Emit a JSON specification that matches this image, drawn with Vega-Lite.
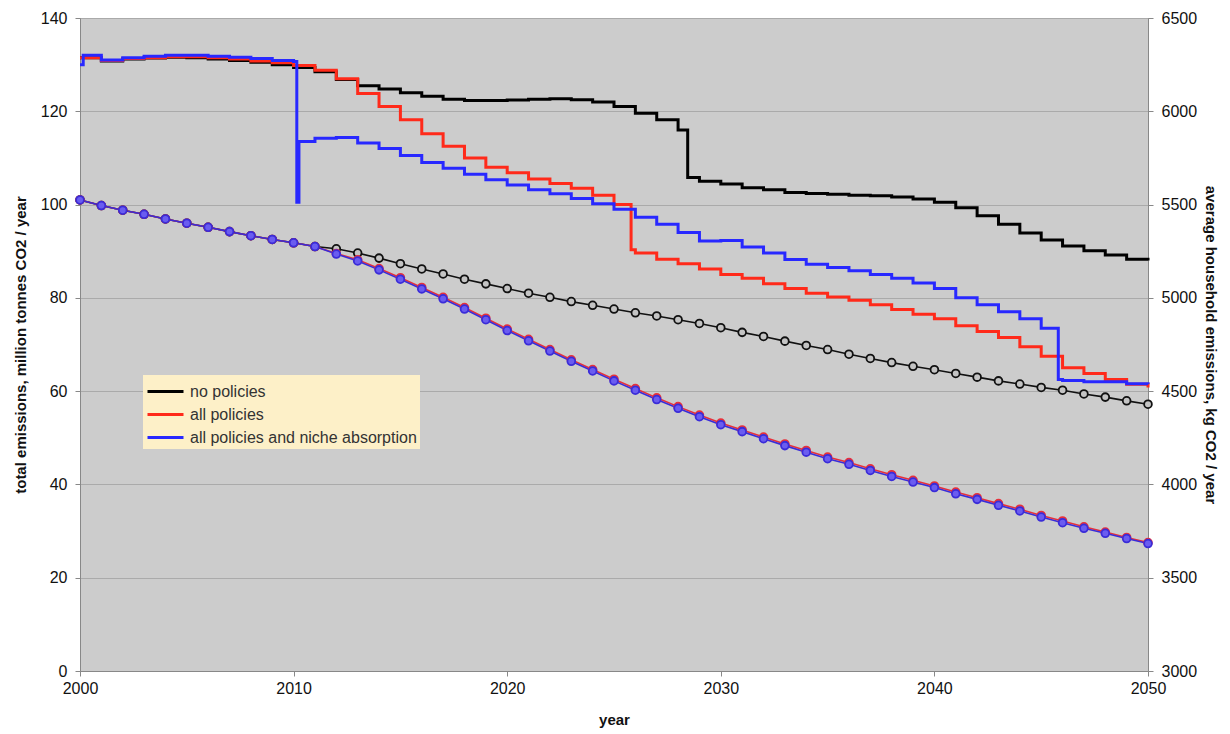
{
  "$schema": "https://vega.github.io/schema/vega-lite/v6.json",
  "width": 1068,
  "height": 653,
  "autosize": {"type": "none"},
  "padding": {"left": 80, "top": 18, "right": 82, "bottom": 63},
  "background": "white",
  "config": {
    "font": "Liberation Sans",
    "view": {"fill": "#cccccc", "stroke": "#999999", "strokeWidth": 1},
    "axis": {
      "labelFont": "Liberation Sans",
      "labelFontSize": 16,
      "labelColor": "#111111",
      "titleFont": "Liberation Sans",
      "titleFontSize": 15,
      "titleFontWeight": "bold",
      "titleColor": "#111111",
      "domainColor": "#888888",
      "tickColor": "#888888",
      "tickSize": 5,
      "gridColor": "#aaaaaa",
      "gridWidth": 1.2
    },
    "legend": {
      "labelFont": "Liberation Sans",
      "labelFontSize": 16,
      "labelColor": "#333333",
      "labelLimit": 400
    }
  },
  "datasets": {
    "steps": [
      {"series": "no policies", "year": 2000, "v": 131.5},
      {"series": "no policies", "year": 2001, "v": 130.8},
      {"series": "no policies", "year": 2002, "v": 131.2},
      {"series": "no policies", "year": 2003, "v": 131.4},
      {"series": "no policies", "year": 2004, "v": 131.6},
      {"series": "no policies", "year": 2005, "v": 131.5},
      {"series": "no policies", "year": 2006, "v": 131.2},
      {"series": "no policies", "year": 2007, "v": 130.9},
      {"series": "no policies", "year": 2008, "v": 130.5},
      {"series": "no policies", "year": 2009, "v": 130.0},
      {"series": "no policies", "year": 2010, "v": 129.4},
      {"series": "no policies", "year": 2011, "v": 128.5},
      {"series": "no policies", "year": 2012, "v": 126.8},
      {"series": "no policies", "year": 2013, "v": 125.5},
      {"series": "no policies", "year": 2014, "v": 124.8},
      {"series": "no policies", "year": 2015, "v": 124.0},
      {"series": "no policies", "year": 2016, "v": 123.2},
      {"series": "no policies", "year": 2017, "v": 122.6},
      {"series": "no policies", "year": 2018, "v": 122.3},
      {"series": "no policies", "year": 2019, "v": 122.3},
      {"series": "no policies", "year": 2020, "v": 122.4},
      {"series": "no policies", "year": 2021, "v": 122.6},
      {"series": "no policies", "year": 2022, "v": 122.7},
      {"series": "no policies", "year": 2023, "v": 122.5},
      {"series": "no policies", "year": 2024, "v": 122.0},
      {"series": "no policies", "year": 2025, "v": 121.0},
      {"series": "no policies", "year": 2026, "v": 119.6},
      {"series": "no policies", "year": 2027, "v": 118.2},
      {"series": "no policies", "year": 2028, "v": 116.0},
      {"series": "no policies", "year": 2028.45, "v": 105.8},
      {"series": "no policies", "year": 2029, "v": 105.0},
      {"series": "no policies", "year": 2030, "v": 104.4},
      {"series": "no policies", "year": 2031, "v": 103.6},
      {"series": "no policies", "year": 2032, "v": 103.2},
      {"series": "no policies", "year": 2033, "v": 102.6},
      {"series": "no policies", "year": 2034, "v": 102.4},
      {"series": "no policies", "year": 2035, "v": 102.2},
      {"series": "no policies", "year": 2036, "v": 102.0},
      {"series": "no policies", "year": 2037, "v": 101.9},
      {"series": "no policies", "year": 2038, "v": 101.6},
      {"series": "no policies", "year": 2039, "v": 101.2},
      {"series": "no policies", "year": 2040, "v": 100.5},
      {"series": "no policies", "year": 2041, "v": 99.3},
      {"series": "no policies", "year": 2042, "v": 97.6},
      {"series": "no policies", "year": 2043, "v": 95.8},
      {"series": "no policies", "year": 2044, "v": 93.9},
      {"series": "no policies", "year": 2045, "v": 92.4},
      {"series": "no policies", "year": 2046, "v": 91.1},
      {"series": "no policies", "year": 2047, "v": 90.1},
      {"series": "no policies", "year": 2048, "v": 89.2},
      {"series": "no policies", "year": 2049, "v": 88.3},
      {"series": "no policies", "year": 2050, "v": 88.0},

      {"series": "all policies", "year": 2000, "v": 131.5},
      {"series": "all policies", "year": 2001, "v": 130.9},
      {"series": "all policies", "year": 2002, "v": 131.3},
      {"series": "all policies", "year": 2003, "v": 131.5},
      {"series": "all policies", "year": 2004, "v": 131.7},
      {"series": "all policies", "year": 2005, "v": 131.7},
      {"series": "all policies", "year": 2006, "v": 131.5},
      {"series": "all policies", "year": 2007, "v": 131.2},
      {"series": "all policies", "year": 2008, "v": 130.8},
      {"series": "all policies", "year": 2009, "v": 130.4},
      {"series": "all policies", "year": 2010, "v": 129.8},
      {"series": "all policies", "year": 2011, "v": 128.8},
      {"series": "all policies", "year": 2012, "v": 127.0},
      {"series": "all policies", "year": 2013, "v": 123.8},
      {"series": "all policies", "year": 2014, "v": 121.0},
      {"series": "all policies", "year": 2015, "v": 118.2},
      {"series": "all policies", "year": 2016, "v": 115.2},
      {"series": "all policies", "year": 2017, "v": 112.5},
      {"series": "all policies", "year": 2018, "v": 110.0},
      {"series": "all policies", "year": 2019, "v": 108.0},
      {"series": "all policies", "year": 2020, "v": 106.8},
      {"series": "all policies", "year": 2021, "v": 105.5},
      {"series": "all policies", "year": 2022, "v": 104.5},
      {"series": "all policies", "year": 2023, "v": 103.5},
      {"series": "all policies", "year": 2024, "v": 102.0},
      {"series": "all policies", "year": 2025, "v": 100.0},
      {"series": "all policies", "year": 2025.8, "v": 90.3},
      {"series": "all policies", "year": 2026, "v": 89.6},
      {"series": "all policies", "year": 2027, "v": 88.3},
      {"series": "all policies", "year": 2028, "v": 87.3},
      {"series": "all policies", "year": 2029, "v": 86.2},
      {"series": "all policies", "year": 2030, "v": 85.0},
      {"series": "all policies", "year": 2031, "v": 84.2},
      {"series": "all policies", "year": 2032, "v": 83.0},
      {"series": "all policies", "year": 2033, "v": 82.0},
      {"series": "all policies", "year": 2034, "v": 81.0},
      {"series": "all policies", "year": 2035, "v": 80.2},
      {"series": "all policies", "year": 2036, "v": 79.5},
      {"series": "all policies", "year": 2037, "v": 78.5},
      {"series": "all policies", "year": 2038, "v": 77.5},
      {"series": "all policies", "year": 2039, "v": 76.5},
      {"series": "all policies", "year": 2040, "v": 75.5},
      {"series": "all policies", "year": 2041, "v": 74.0},
      {"series": "all policies", "year": 2042, "v": 72.8},
      {"series": "all policies", "year": 2043, "v": 71.5},
      {"series": "all policies", "year": 2044, "v": 69.5},
      {"series": "all policies", "year": 2045, "v": 67.5},
      {"series": "all policies", "year": 2046, "v": 65.0},
      {"series": "all policies", "year": 2047, "v": 63.8},
      {"series": "all policies", "year": 2048, "v": 62.5},
      {"series": "all policies", "year": 2049, "v": 61.5},
      {"series": "all policies", "year": 2050, "v": 60.8},

      {"series": "all policies and niche absorption", "year": 2000, "v": 130.0},
      {"series": "all policies and niche absorption", "year": 2000.15, "v": 132.0},
      {"series": "all policies and niche absorption", "year": 2001, "v": 131.0},
      {"series": "all policies and niche absorption", "year": 2002, "v": 131.5},
      {"series": "all policies and niche absorption", "year": 2003, "v": 131.8},
      {"series": "all policies and niche absorption", "year": 2004, "v": 132.0},
      {"series": "all policies and niche absorption", "year": 2005, "v": 132.0},
      {"series": "all policies and niche absorption", "year": 2006, "v": 131.8},
      {"series": "all policies and niche absorption", "year": 2007, "v": 131.6},
      {"series": "all policies and niche absorption", "year": 2008, "v": 131.3},
      {"series": "all policies and niche absorption", "year": 2009, "v": 130.9},
      {"series": "all policies and niche absorption", "year": 2010, "v": 130.7},
      {"series": "all policies and niche absorption", "year": 2010.15, "v": 100.5},
      {"series": "all policies and niche absorption", "year": 2010.25, "v": 113.5},
      {"series": "all policies and niche absorption", "year": 2011, "v": 114.2},
      {"series": "all policies and niche absorption", "year": 2012, "v": 114.4},
      {"series": "all policies and niche absorption", "year": 2013, "v": 113.2},
      {"series": "all policies and niche absorption", "year": 2014, "v": 112.0},
      {"series": "all policies and niche absorption", "year": 2015, "v": 110.5},
      {"series": "all policies and niche absorption", "year": 2016, "v": 109.0},
      {"series": "all policies and niche absorption", "year": 2017, "v": 107.8},
      {"series": "all policies and niche absorption", "year": 2018, "v": 106.5},
      {"series": "all policies and niche absorption", "year": 2019, "v": 105.3},
      {"series": "all policies and niche absorption", "year": 2020, "v": 104.2},
      {"series": "all policies and niche absorption", "year": 2021, "v": 103.2},
      {"series": "all policies and niche absorption", "year": 2022, "v": 102.3},
      {"series": "all policies and niche absorption", "year": 2023, "v": 101.3},
      {"series": "all policies and niche absorption", "year": 2024, "v": 100.2},
      {"series": "all policies and niche absorption", "year": 2025, "v": 99.0},
      {"series": "all policies and niche absorption", "year": 2026, "v": 97.3},
      {"series": "all policies and niche absorption", "year": 2027, "v": 95.8},
      {"series": "all policies and niche absorption", "year": 2028, "v": 94.0},
      {"series": "all policies and niche absorption", "year": 2029, "v": 92.2},
      {"series": "all policies and niche absorption", "year": 2030, "v": 92.3},
      {"series": "all policies and niche absorption", "year": 2031, "v": 90.9},
      {"series": "all policies and niche absorption", "year": 2032, "v": 89.6},
      {"series": "all policies and niche absorption", "year": 2033, "v": 88.2},
      {"series": "all policies and niche absorption", "year": 2034, "v": 87.2},
      {"series": "all policies and niche absorption", "year": 2035, "v": 86.5},
      {"series": "all policies and niche absorption", "year": 2036, "v": 85.8},
      {"series": "all policies and niche absorption", "year": 2037, "v": 85.0},
      {"series": "all policies and niche absorption", "year": 2038, "v": 84.2},
      {"series": "all policies and niche absorption", "year": 2039, "v": 83.2},
      {"series": "all policies and niche absorption", "year": 2040, "v": 82.0},
      {"series": "all policies and niche absorption", "year": 2041, "v": 80.0},
      {"series": "all policies and niche absorption", "year": 2042, "v": 78.5},
      {"series": "all policies and niche absorption", "year": 2043, "v": 77.0},
      {"series": "all policies and niche absorption", "year": 2044, "v": 75.5},
      {"series": "all policies and niche absorption", "year": 2045, "v": 73.5},
      {"series": "all policies and niche absorption", "year": 2045.8, "v": 62.5},
      {"series": "all policies and niche absorption", "year": 2046, "v": 62.3},
      {"series": "all policies and niche absorption", "year": 2047, "v": 62.0},
      {"series": "all policies and niche absorption", "year": 2048, "v": 62.0},
      {"series": "all policies and niche absorption", "year": 2049, "v": 61.6},
      {"series": "all policies and niche absorption", "year": 2050, "v": 61.5}
    ],
    "household": [
      {"series": "no policies", "year": 2000, "kg": 5525},
      {"series": "no policies", "year": 2001, "kg": 5495},
      {"series": "no policies", "year": 2002, "kg": 5470},
      {"series": "no policies", "year": 2003, "kg": 5448},
      {"series": "no policies", "year": 2004, "kg": 5423},
      {"series": "no policies", "year": 2005, "kg": 5400},
      {"series": "no policies", "year": 2006, "kg": 5378},
      {"series": "no policies", "year": 2007, "kg": 5355},
      {"series": "no policies", "year": 2008, "kg": 5333},
      {"series": "no policies", "year": 2009, "kg": 5313},
      {"series": "no policies", "year": 2010, "kg": 5295},
      {"series": "no policies", "year": 2011, "kg": 5275},
      {"series": "no policies", "year": 2012, "kg": 5263},
      {"series": "no policies", "year": 2013, "kg": 5240},
      {"series": "no policies", "year": 2014, "kg": 5213},
      {"series": "no policies", "year": 2015, "kg": 5183},
      {"series": "no policies", "year": 2016, "kg": 5155},
      {"series": "no policies", "year": 2017, "kg": 5128},
      {"series": "no policies", "year": 2018, "kg": 5100},
      {"series": "no policies", "year": 2019, "kg": 5075},
      {"series": "no policies", "year": 2020, "kg": 5050},
      {"series": "no policies", "year": 2021, "kg": 5025},
      {"series": "no policies", "year": 2022, "kg": 5003},
      {"series": "no policies", "year": 2023, "kg": 4980},
      {"series": "no policies", "year": 2024, "kg": 4960},
      {"series": "no policies", "year": 2025, "kg": 4940},
      {"series": "no policies", "year": 2026, "kg": 4920},
      {"series": "no policies", "year": 2027, "kg": 4903},
      {"series": "no policies", "year": 2028, "kg": 4883},
      {"series": "no policies", "year": 2029, "kg": 4863},
      {"series": "no policies", "year": 2030, "kg": 4840},
      {"series": "no policies", "year": 2031, "kg": 4815},
      {"series": "no policies", "year": 2032, "kg": 4793},
      {"series": "no policies", "year": 2033, "kg": 4768},
      {"series": "no policies", "year": 2034, "kg": 4745},
      {"series": "no policies", "year": 2035, "kg": 4723},
      {"series": "no policies", "year": 2036, "kg": 4698},
      {"series": "no policies", "year": 2037, "kg": 4675},
      {"series": "no policies", "year": 2038, "kg": 4653},
      {"series": "no policies", "year": 2039, "kg": 4633},
      {"series": "no policies", "year": 2040, "kg": 4615},
      {"series": "no policies", "year": 2041, "kg": 4595},
      {"series": "no policies", "year": 2042, "kg": 4575},
      {"series": "no policies", "year": 2043, "kg": 4555},
      {"series": "no policies", "year": 2044, "kg": 4538},
      {"series": "no policies", "year": 2045, "kg": 4520},
      {"series": "no policies", "year": 2046, "kg": 4505},
      {"series": "no policies", "year": 2047, "kg": 4485},
      {"series": "no policies", "year": 2048, "kg": 4468},
      {"series": "no policies", "year": 2049, "kg": 4448},
      {"series": "no policies", "year": 2050, "kg": 4430},

      {"series": "all policies", "year": 2000, "kg": 5525},
      {"series": "all policies", "year": 2001, "kg": 5495},
      {"series": "all policies", "year": 2002, "kg": 5470},
      {"series": "all policies", "year": 2003, "kg": 5448},
      {"series": "all policies", "year": 2004, "kg": 5423},
      {"series": "all policies", "year": 2005, "kg": 5400},
      {"series": "all policies", "year": 2006, "kg": 5378},
      {"series": "all policies", "year": 2007, "kg": 5355},
      {"series": "all policies", "year": 2008, "kg": 5333},
      {"series": "all policies", "year": 2009, "kg": 5313},
      {"series": "all policies", "year": 2010, "kg": 5295},
      {"series": "all policies", "year": 2011, "kg": 5275},
      {"series": "all policies", "year": 2012, "kg": 5238},
      {"series": "all policies", "year": 2013, "kg": 5204},
      {"series": "all policies", "year": 2014, "kg": 5157},
      {"series": "all policies", "year": 2015, "kg": 5108},
      {"series": "all policies", "year": 2016, "kg": 5056},
      {"series": "all policies", "year": 2017, "kg": 5003},
      {"series": "all policies", "year": 2018, "kg": 4948},
      {"series": "all policies", "year": 2019, "kg": 4891},
      {"series": "all policies", "year": 2020, "kg": 4833},
      {"series": "all policies", "year": 2021, "kg": 4778},
      {"series": "all policies", "year": 2022, "kg": 4723},
      {"series": "all policies", "year": 2023, "kg": 4668},
      {"series": "all policies", "year": 2024, "kg": 4616},
      {"series": "all policies", "year": 2025, "kg": 4564},
      {"series": "all policies", "year": 2026, "kg": 4514},
      {"series": "all policies", "year": 2027, "kg": 4464},
      {"series": "all policies", "year": 2028, "kg": 4417},
      {"series": "all policies", "year": 2029, "kg": 4372},
      {"series": "all policies", "year": 2030, "kg": 4329},
      {"series": "all policies", "year": 2031, "kg": 4292},
      {"series": "all policies", "year": 2032, "kg": 4254},
      {"series": "all policies", "year": 2033, "kg": 4217},
      {"series": "all policies", "year": 2034, "kg": 4182},
      {"series": "all policies", "year": 2035, "kg": 4147},
      {"series": "all policies", "year": 2036, "kg": 4117},
      {"series": "all policies", "year": 2037, "kg": 4084},
      {"series": "all policies", "year": 2038, "kg": 4052},
      {"series": "all policies", "year": 2039, "kg": 4022},
      {"series": "all policies", "year": 2040, "kg": 3992},
      {"series": "all policies", "year": 2041, "kg": 3959},
      {"series": "all policies", "year": 2042, "kg": 3929},
      {"series": "all policies", "year": 2043, "kg": 3897},
      {"series": "all policies", "year": 2044, "kg": 3867},
      {"series": "all policies", "year": 2045, "kg": 3834},
      {"series": "all policies", "year": 2046, "kg": 3804},
      {"series": "all policies", "year": 2047, "kg": 3773},
      {"series": "all policies", "year": 2048, "kg": 3745},
      {"series": "all policies", "year": 2049, "kg": 3716},
      {"series": "all policies", "year": 2050, "kg": 3688},

      {"series": "all policies and niche absorption", "year": 2000, "kg": 5525},
      {"series": "all policies and niche absorption", "year": 2001, "kg": 5495},
      {"series": "all policies and niche absorption", "year": 2002, "kg": 5470},
      {"series": "all policies and niche absorption", "year": 2003, "kg": 5448},
      {"series": "all policies and niche absorption", "year": 2004, "kg": 5423},
      {"series": "all policies and niche absorption", "year": 2005, "kg": 5400},
      {"series": "all policies and niche absorption", "year": 2006, "kg": 5378},
      {"series": "all policies and niche absorption", "year": 2007, "kg": 5355},
      {"series": "all policies and niche absorption", "year": 2008, "kg": 5333},
      {"series": "all policies and niche absorption", "year": 2009, "kg": 5313},
      {"series": "all policies and niche absorption", "year": 2010, "kg": 5295},
      {"series": "all policies and niche absorption", "year": 2011, "kg": 5275},
      {"series": "all policies and niche absorption", "year": 2012, "kg": 5235},
      {"series": "all policies and niche absorption", "year": 2013, "kg": 5198},
      {"series": "all policies and niche absorption", "year": 2014, "kg": 5150},
      {"series": "all policies and niche absorption", "year": 2015, "kg": 5100},
      {"series": "all policies and niche absorption", "year": 2016, "kg": 5048},
      {"series": "all policies and niche absorption", "year": 2017, "kg": 4995},
      {"series": "all policies and niche absorption", "year": 2018, "kg": 4940},
      {"series": "all policies and niche absorption", "year": 2019, "kg": 4883},
      {"series": "all policies and niche absorption", "year": 2020, "kg": 4825},
      {"series": "all policies and niche absorption", "year": 2021, "kg": 4770},
      {"series": "all policies and niche absorption", "year": 2022, "kg": 4715},
      {"series": "all policies and niche absorption", "year": 2023, "kg": 4660},
      {"series": "all policies and niche absorption", "year": 2024, "kg": 4608},
      {"series": "all policies and niche absorption", "year": 2025, "kg": 4555},
      {"series": "all policies and niche absorption", "year": 2026, "kg": 4505},
      {"series": "all policies and niche absorption", "year": 2027, "kg": 4455},
      {"series": "all policies and niche absorption", "year": 2028, "kg": 4408},
      {"series": "all policies and niche absorption", "year": 2029, "kg": 4363},
      {"series": "all policies and niche absorption", "year": 2030, "kg": 4320},
      {"series": "all policies and niche absorption", "year": 2031, "kg": 4283},
      {"series": "all policies and niche absorption", "year": 2032, "kg": 4245},
      {"series": "all policies and niche absorption", "year": 2033, "kg": 4208},
      {"series": "all policies and niche absorption", "year": 2034, "kg": 4173},
      {"series": "all policies and niche absorption", "year": 2035, "kg": 4138},
      {"series": "all policies and niche absorption", "year": 2036, "kg": 4108},
      {"series": "all policies and niche absorption", "year": 2037, "kg": 4075},
      {"series": "all policies and niche absorption", "year": 2038, "kg": 4043},
      {"series": "all policies and niche absorption", "year": 2039, "kg": 4013},
      {"series": "all policies and niche absorption", "year": 2040, "kg": 3983},
      {"series": "all policies and niche absorption", "year": 2041, "kg": 3950},
      {"series": "all policies and niche absorption", "year": 2042, "kg": 3920},
      {"series": "all policies and niche absorption", "year": 2043, "kg": 3888},
      {"series": "all policies and niche absorption", "year": 2044, "kg": 3858},
      {"series": "all policies and niche absorption", "year": 2045, "kg": 3825},
      {"series": "all policies and niche absorption", "year": 2046, "kg": 3795},
      {"series": "all policies and niche absorption", "year": 2047, "kg": 3765},
      {"series": "all policies and niche absorption", "year": 2048, "kg": 3738},
      {"series": "all policies and niche absorption", "year": 2049, "kg": 3710},
      {"series": "all policies and niche absorption", "year": 2050, "kg": 3683}
    ]
  },
  "encoding": {
    "x": {
      "field": "year",
      "type": "quantitative",
      "scale": {"domain": [2000, 2050], "nice": false, "zero": false},
      "axis": {
        "values": [2000, 2010, 2020, 2030, 2040, 2050],
        "format": "d",
        "grid": false,
        "labelFlush": false,
        "title": "year",
        "labelPadding": 4,
        "titlePadding": 16
      }
    }
  },
  "layer": [
    {
      "data": {"name": "household"},
      "encoding": {
        "y": {
          "field": "kg",
          "type": "quantitative",
          "scale": {"domain": [3000, 6500], "nice": false, "zero": false},
          "axis": {
            "orient": "right",
            "values": [3000, 3500, 4000, 4500, 5000, 5500, 6000, 6500],
            "format": "d",
            "grid": false,
            "title": "average household emissions, kg CO2 / year",
            "labelPadding": 8,
            "titlePadding": 6
          }
        },
        "stroke": {
          "field": "series",
          "type": "nominal",
          "scale": {
            "domain": ["no policies", "all policies", "all policies and niche absorption"],
            "range": ["#111111", "#e8303a", "#3a2cd8"]
          },
          "legend": null
        }
      },
      "layer": [
        {
          "mark": {"type": "line", "strokeWidth": 1.6},
          "encoding": {"detail": {"field": "series"}}
        },
        {
          "mark": {"type": "point", "shape": "circle", "size": 60, "strokeWidth": 1.8, "opacity": 1},
          "encoding": {
            "fill": {
              "field": "series",
              "type": "nominal",
              "scale": {
                "domain": ["no policies", "all policies", "all policies and niche absorption"],
                "range": ["#c4c4c4", "#d9607a", "#6a5cf0"]
              },
              "legend": null
            }
          }
        }
      ]
    },
    {
      "data": {"name": "steps"},
      "mark": {"type": "line", "interpolate": "step-after", "strokeWidth": 3},
      "encoding": {
        "y": {
          "field": "v",
          "type": "quantitative",
          "scale": {"domain": [0, 140], "nice": false},
          "axis": {
            "orient": "left",
            "values": [0, 20, 40, 60, 80, 100, 120, 140],
            "grid": true,
            "title": "total emissions, million tonnes CO2 / year",
            "labelPadding": 8,
            "titlePadding": 12
          }
        },
        "color": {
          "field": "series",
          "type": "nominal",
          "scale": {
            "domain": ["no policies", "all policies", "all policies and niche absorption"],
            "range": ["#000000", "#ff2a1a", "#2828ff"]
          },
          "legend": {
            "orient": "none",
            "legendX": 63,
            "legendY": 357,
            "title": null,
            "fillColor": "#fdf0c8",
            "padding": 3,
            "rowPadding": 1,
            "symbolType": "M-1,0H2",
            "symbolSize": 576,
            "symbolStrokeWidth": 3,
            "labelOffset": 17
          }
        }
      }
    }
  ],
  "resolve": {"scale": {"y": "independent", "stroke": "independent", "fill": "independent"}}
}
